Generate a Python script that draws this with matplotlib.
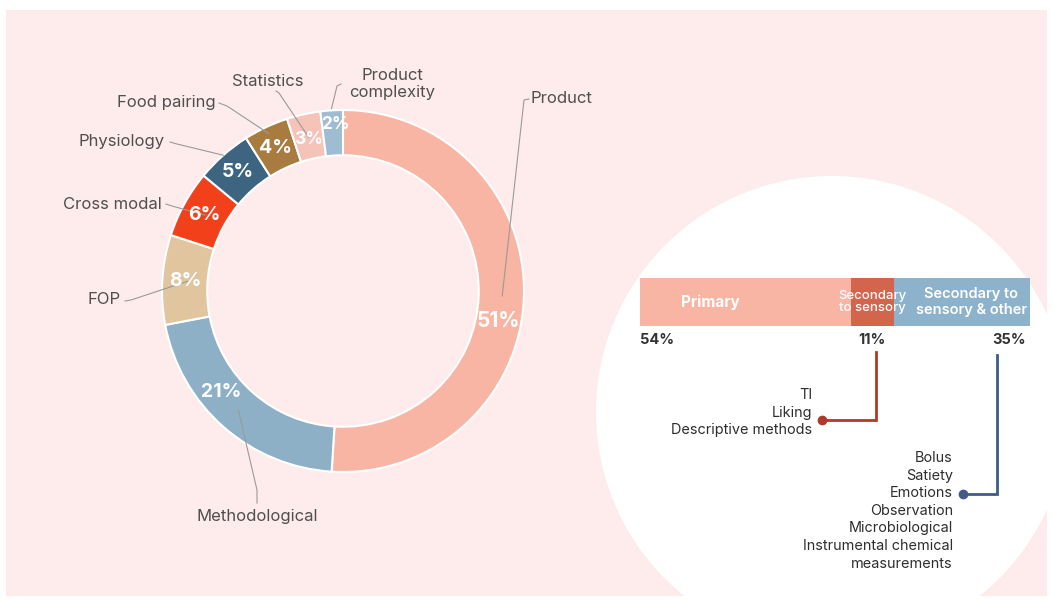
import numpy as np
import matplotlib
matplotlib.use("Agg")
import matplotlib.pyplot as plt
from matplotlib.patches import Rectangle, Circle

plt.rcParams['font.family'] = ['Inter', 'DejaVu Sans']

# ---------------- data ----------------
donut_labels = ["Product", "Methodological", "FOP", "Cross modal", "Physiology",
                "Food pairing", "Statistics", "Product\ncomplexity"]
donut_values = [51, 21, 8, 6, 5, 4, 3, 2]
donut_colors = ["#f9b5a3", "#8db0c7", "#e1c59f", "#f2401a", "#3d6582",
                "#a87b3f", "#f6c3b8", "#9fbdd2"]

bar_labels = ["Primary", "Secondary\nto sensory", "Secondary to\nsensory & other"]
bar_values = [54, 11, 35]
bar_colors = ["#f9b5a3", "#d4654d", "#8db2cb"]

red_items = ["TI", "Liking", "Descriptive methods"]
blue_items = ["Bolus", "Satiety", "Emotions", "Observation", "Microbiological",
              "Instrumental chemical", "measurements"]

# ---------------- layout (pixels) ----------------
W, H = 1053, 601
PINK = "#fdeceb"
CX, CY, R = 343, 291, 181          # donut centre / radius in px
L = 1.6                            # pie axes half-extent (in radius units)

fig = plt.figure(figsize=(W / 100, H / 100), dpi=100)
fig.patch.set_facecolor("white")

# background axes in pixel coordinates
bg = fig.add_axes([0, 0, 1, 1])
bg.set_xlim(0, W); bg.set_ylim(H, 0); bg.axis("off"); bg.set_zorder(0)
panel = Rectangle((6, 10), 1041, 586, facecolor=PINK, edgecolor="none")
bg.add_patch(panel)
circ = Circle((832, 412), 236, facecolor="white", edgecolor="none")
bg.add_patch(circ)
circ.set_clip_path(panel)

# ---------------- donut ----------------
pax = fig.add_axes([(CX - L * R) / W, 1 - (CY + L * R) / H, 2 * L * R / W, 2 * L * R / H])
pax.set_zorder(1)
pax.patch.set_alpha(0)
wedges, _ = pax.pie(donut_values, colors=donut_colors, startangle=90, counterclock=False,
                    radius=1.0, wedgeprops=dict(width=0.25, edgecolor="white", linewidth=1.5))
pax.set_xlim(-L, L); pax.set_ylim(-L, L); pax.set_aspect("equal"); pax.axis("off")

def px2d(x, y):
    return (x - CX) / R, (CY - y) / R

# percentage labels (angle offset in degrees from wedge middle, radius, size)
pct_offsets = [-9, -9, 0, 0, 0, 0, 0, -1]
pct_radius = [0.875, 0.875, 0.875, 0.875, 0.875, 0.875, 0.86, 0.92]
pct_sizes = [15, 14, 14, 14, 14, 14, 12.5, 12.5]
for w, v, off, r, fs in zip(wedges, donut_values, pct_offsets, pct_radius, pct_sizes):
    mid = np.deg2rad((w.theta1 + w.theta2) / 2 + off)
    pax.text(r * np.cos(mid), r * np.sin(mid), f"{v}%", ha="center", va="center",
             color="white", fontsize=fs, fontweight="bold", zorder=5)

# outer labels: text position (px), alignment, leader start, elbow, anchor radius
label_pos = [(531, 99, "left"), (257, 516, "center"), (104, 300, "center"),
             (112, 205, "center"), (122, 142, "center"), (166, 103, "center"),
             (268, 81, "center"), (392, 84, "center")]
leader_p0 = [(529, 99), (257, 503), (125, 301), (166, 204), (170, 142), (219, 103),
             (276, 91), (341, 84)]
leader_p1 = [(524, 100), (257, 490), (131, 300), (172, 206), (177, 144), (227, 106),
             (279, 93), (337, 86)]
anchor_r = [0.88, 0.875, 0.86, 0.87, 1.0, 0.96, 0.87, 1.01]
for w, lab, (tx, ty, ha), p0, p1, ar in zip(wedges, donut_labels, label_pos,
                                            leader_p0, leader_p1, anchor_r):
    x, y = px2d(tx, ty)
    pax.text(x, y, lab, ha=ha, va="center", color="#4f4f4f", fontsize=12,
             linespacing=1.2, zorder=6)
    mid = np.deg2rad((w.theta1 + w.theta2) / 2)
    a = (ar * np.cos(mid), ar * np.sin(mid))
    q0, q1 = px2d(*p0), px2d(*p1)
    pax.plot([q0[0], q1[0], a[0]], [q0[1], q1[1], a[1]], color="#9a9a9a",
             lw=0.8, clip_on=False, zorder=4)

# ---------------- stacked bar ----------------
BX0, BX1, BY0, BY1 = 640, 1030, 278, 326
bax = fig.add_axes([BX0 / W, 1 - BY1 / H, (BX1 - BX0) / W, (BY1 - BY0) / H])
bax.set_zorder(1)
left = 0
bar_weights = ["bold", "medium", "semibold"]
bar_fs = [11, 9.5, 10.5]
bar_text_shift = [-9, 0, 2.4]      # offset of label centre from segment middle
for v, c, lab, wt, fs, dx in zip(bar_values, bar_colors, bar_labels, bar_weights,
                                 bar_fs, bar_text_shift):
    bax.barh(0, v, left=left, height=1, color=c, edgecolor="none")
    bax.text(left + v / 2 + dx, 0, lab, ha="center", va="center", color="white",
             fontsize=fs, fontweight=wt, linespacing=1.1)
    left += v
bax.set_xlim(0, sum(bar_values)); bax.set_ylim(-0.5, 0.5); bax.axis("off")

# percentage labels below the bar
left = 0
pct_ha = ["left", "center", "right"]
for v, ha in zip(bar_values, pct_ha):
    if ha == "left":
        x = left
    elif ha == "center":
        x = left + v / 2
    else:
        x = left + v - 1
    bax.text(x, -0.8, f"{v}%", ha=ha, va="center", color="#333333",
             fontsize=10.5, fontweight="bold", clip_on=False)
    left += v

# ---------------- connectors and item lists ----------------
ov = fig.add_axes([0, 0, 1, 1])
ov.set_xlim(0, W); ov.set_ylim(H, 0); ov.axis("off"); ov.set_zorder(3)

RED, BLUE = "#b2392a", "#3f5d86"
ov.plot([876, 876, 822], [352, 420, 420], color=RED, lw=2, solid_joinstyle="miter")
ov.plot([822], [420], "o", color=RED, ms=6)
ov.plot([997, 997, 963], [355, 494, 494], color=BLUE, lw=2, solid_joinstyle="miter")
ov.plot([963], [494], "o", color=BLUE, ms=6)

for i, t in enumerate(red_items):
    ov.text(812, 395 + i * 17.5, t, ha="right", va="center", color="#2e2e2e", fontsize=10.4)
for i, t in enumerate(blue_items):
    ov.text(953, 458 + i * 17.6, t, ha="right", va="center", color="#2e2e2e", fontsize=10.4)

fig.savefig("out.png", dpi=100, facecolor=fig.get_facecolor())
